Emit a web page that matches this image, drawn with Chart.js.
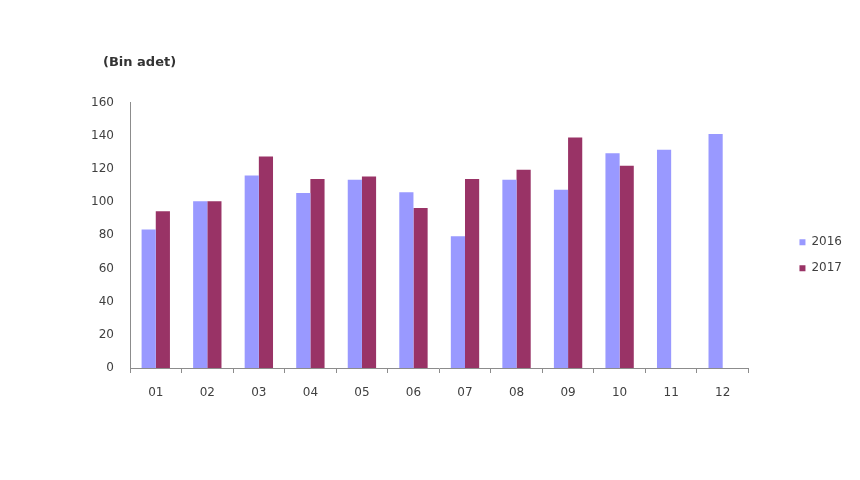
<!DOCTYPE html>
<html>
<head>
<meta charset="utf-8">
<script src="https://cdn.jsdelivr.net/npm/chart.js@4"></script>
<style>
  html, body { margin: 0; padding: 0; background: #ffffff; }
  #wrap { width: 860px; height: 480px; }
</style>
</head>
<body>
<div id="wrap"><canvas id="c" width="860" height="480"></canvas></div>
<script>
const categories = ['01','02','03','04','05','06','07','08','09','10','11','12'];
const series2016 = [83.5, 100.5, 116, 105.5, 113.5, 106, 79.5, 113.5, 107.5, 129.5, 131.5, 141];
const series2017 = [94.5, 100.5, 127.5, 114, 115.5, 96.5, 114, 119.5, 139, 122, null, null];
const seriesLabels = ['2016', '2017'];
const unitLabel = '(Bin adet)';
const yMin = 0, yMax = 160, yStep = 20;

const FONT = 'DejaVu Sans';
const TEXT = '#404040';
const AXIS = '#8c8c8c';

const boxShift = {
  id: 'boxShift',
  afterLayout(chart) {
    const lg = chart.legend;
    if (lg) {
      const dx = chart.chartArea.right + 37 - lg.left;
      const dy = 20;
      lg.left += dx; lg.right += dx;
      lg.top += dy; lg.bottom += dy;
    }
    const t = chart.titleBlock;
    if (t) {
      const tx = chart.chartArea.left - 27 - t.left;
      t.left += tx; t.right += tx;
    }
  }
};

new Chart(document.getElementById('c'), {
  type: 'bar',
  data: {
    labels: categories,
    datasets: [
      { label: seriesLabels[0], data: series2016, backgroundColor: '#9999FF', borderWidth: 0,
        barPercentage: 1.0, categoryPercentage: 0.55 },
      { label: seriesLabels[1], data: series2017, backgroundColor: '#993366', borderWidth: 0,
        barPercentage: 1.0, categoryPercentage: 0.55 }
    ]
  },
  options: {
    responsive: false,
    animation: false,
    devicePixelRatio: 1,
    layout: { padding: { left: 80, right: 45, top: 0, bottom: 40 } },
    plugins: {
      title: {
        display: true,
        text: unitLabel,
        align: 'start',
        color: '#333333',
        font: { family: FONT, size: 13, weight: 'bold' },
        padding: { top: 55, bottom: 32 }
      },
      legend: {
        position: 'right',
        fullSize: false,
        align: 'center',
        labels: {
          boxWidth: 6, boxHeight: 6, padding: 14,
          color: TEXT,
          font: { family: FONT, size: 12 }
        }
      },
      tooltip: { enabled: false }
    },
    scales: {
      x: {
        grid: { display: true, drawOnChartArea: false, drawTicks: true, tickLength: 5, color: AXIS, offset: true },
        border: { display: true, color: AXIS, width: 1 },
        ticks: { color: TEXT, font: { family: FONT, size: 12 }, padding: 13, maxRotation: 0 },
        afterFit(s) { s.height = 72; }
      },
      y: {
        min: yMin, max: yMax,
        grid: { display: false, drawTicks: false },
        border: { display: true, color: AXIS, width: 1 },
        ticks: { stepSize: yStep, color: TEXT, font: { family: FONT, size: 12 }, padding: 16 },
        afterFit(s) { s.width = 50; }
      }
    }
  },
  plugins: [boxShift]
});
</script>
</body>
</html>
